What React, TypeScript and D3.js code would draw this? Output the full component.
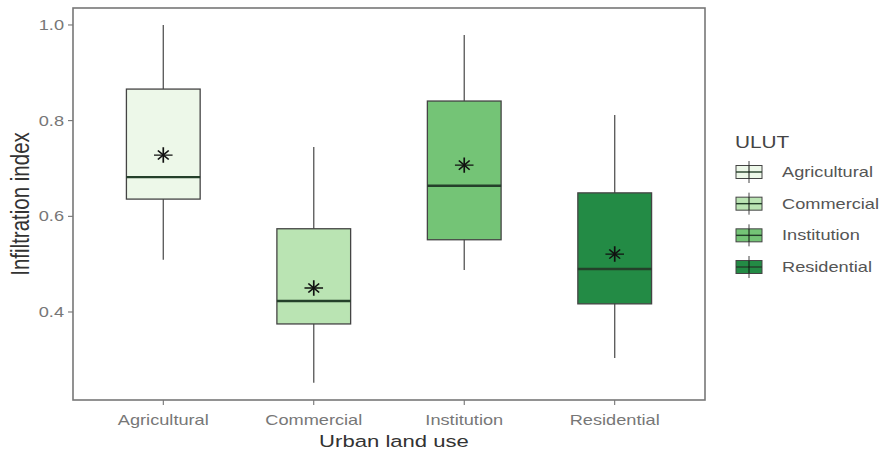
import { useEffect, useRef } from "react";
import * as d3 from "d3";

// Data
const categories = ["Agricultural", "Commercial", "Institution", "Residential"];
const whiskerLow = [0.509, 0.252, 0.488, 0.304];
const q1 = [0.636, 0.375, 0.551, 0.417];
const medians = [0.682, 0.423, 0.664, 0.49];
const q3 = [0.866, 0.574, 0.841, 0.649];
const whiskerHigh = [1.0, 0.745, 0.979, 0.812];
const means = [0.728, 0.45, 0.707, 0.521];
const fills = ["#edf8e9", "#bae4b3", "#74c476", "#238b45"];
const yTicks = [0.4, 0.6, 0.8, 1.0];

export default function App() {
    const svgRef = useRef<SVGSVGElement | null>(null);

    useEffect(() => {
        if (!svgRef.current) return;
        document.body.style.margin = "0";

        const svg = d3.select(svgRef.current);
        svg.selectAll("*").remove();

        const font = "'Liberation Sans', Arial, sans-serif";
        const stretch = 1.3; // the source picture is widened horizontally
        const panel = { left: 73, right: 705, top: 8, bottom: 400 };

        const x = d3
            .scaleBand()
            .domain(categories)
            .range([panel.left, panel.right])
            .paddingInner(0)
            .paddingOuter(0.1);

        const y = d3.scaleLinear().domain([0.216, 1.0355]).range([panel.bottom, panel.top]);

        const boxW = x.step() * 0.49;
        const cx = (c: string) => (x(c) || 0) + x.bandwidth() / 2;

        const label = (
            parent: any,
            tx: number,
            ty: number,
            txt: string,
            size: number,
            fill: string,
            anchor = "start",
            dy = "0"
        ) =>
            parent
                .append("text")
                .attr("transform", `translate(${tx},${ty}) scale(${stretch},1)`)
                .attr("text-anchor", anchor)
                .attr("dy", dy)
                .attr("font-family", font)
                .attr("font-size", `${size}px`)
                .attr("fill", fill)
                .text(txt);

        const data = categories.map((c, i) => ({
            c,
            lo: whiskerLow[i],
            q1: q1[i],
            med: medians[i],
            q3: q3[i],
            hi: whiskerHigh[i],
            mean: means[i],
            fill: fills[i],
        }));

        // Y ticks
        const yAxis = svg.append("g");
        yTicks.forEach((t) => {
            yAxis.append("line")
                .attr("x1", panel.left - 5)
                .attr("x2", panel.left)
                .attr("y1", y(t))
                .attr("y2", y(t))
                .attr("stroke", "#666");
            label(yAxis, panel.left - 9, y(t), d3.format(".1f")(t), 14, "#777", "end", "0.35em");
        });

        // X ticks
        const xAxis = svg.append("g");
        categories.forEach((c) => {
            xAxis.append("line")
                .attr("x1", cx(c))
                .attr("x2", cx(c))
                .attr("y1", panel.bottom)
                .attr("y2", panel.bottom + 5)
                .attr("stroke", "#666");
            label(xAxis, cx(c), 425, c, 14, "#777", "middle");
        });

        // Whiskers
        const g = svg.append("g");
        g.selectAll(".whisker")
            .data(data)
            .enter()
            .append("line")
            .attr("x1", (d) => cx(d.c))
            .attr("x2", (d) => cx(d.c))
            .attr("y1", (d) => y(d.lo))
            .attr("y2", (d) => y(d.hi))
            .attr("stroke", "#555")
            .attr("stroke-width", 1.3);

        // Boxes
        g.selectAll(".box")
            .data(data)
            .enter()
            .append("rect")
            .attr("x", (d) => cx(d.c) - boxW / 2)
            .attr("width", boxW)
            .attr("y", (d) => y(d.q3))
            .attr("height", (d) => y(d.q1) - y(d.q3))
            .attr("fill", (d) => d.fill)
            .attr("stroke", "#444")
            .attr("stroke-width", 1.3);

        // Medians
        g.selectAll(".median")
            .data(data)
            .enter()
            .append("line")
            .attr("x1", (d) => cx(d.c) - boxW / 2)
            .attr("x2", (d) => cx(d.c) + boxW / 2)
            .attr("y1", (d) => y(d.med))
            .attr("y2", (d) => y(d.med))
            .attr("stroke", "#24402a")
            .attr("stroke-width", 2.4);

        // Means as asterisks (plus + times)
        const plus = d3.symbol(d3.symbolPlus, 80)();
        const times = d3.symbol(d3.symbolTimes, 55)();
        data.forEach((d) => {
            const s = g.append("g").attr("transform", `translate(${cx(d.c)},${y(d.mean)}) scale(1.2,1)`);
            [plus, times].forEach((p) =>
                s.append("path").attr("d", p).attr("fill", "none").attr("stroke", "#111").attr("stroke-width", 1.4)
            );
        });

        // Panel border
        svg.append("rect")
            .attr("x", panel.left)
            .attr("y", panel.top)
            .attr("width", panel.right - panel.left)
            .attr("height", panel.bottom - panel.top)
            .attr("fill", "none")
            .attr("stroke", "#777")
            .attr("stroke-width", 1.6);

        // Axis titles
        label(svg, (panel.left + panel.right) / 2 + 5, 447, "Urban land use", 17, "#333", "middle");

        svg.append("text")
            .attr("transform", `translate(29,${(panel.top + panel.bottom) / 2}) scale(1.22,1) rotate(-90)`)
            .attr("text-anchor", "middle")
            .attr("font-family", font)
            .attr("font-size", "20.5px")
            .attr("fill", "#333")
            .text("Infiltration index");

        // Legend
        const legend = svg.append("g").attr("transform", "translate(735,0)");
        label(legend, 0, 148, "ULUT", 16, "#444");

        const keyY = d3.scalePoint().domain(categories).range([172, 267]);
        data.forEach((d) => {
            const ky = keyY(d.c) || 0;
            const k = legend.append("g").attr("transform", `translate(14,${ky})`);
            k.append("line")
                .attr("x1", 0)
                .attr("x2", 0)
                .attr("y1", -11)
                .attr("y2", 11)
                .attr("stroke", "#444")
                .attr("stroke-width", 1);
            k.append("rect")
                .attr("x", -13)
                .attr("y", -6.5)
                .attr("width", 26)
                .attr("height", 13)
                .attr("fill", d.fill)
                .attr("stroke", "#444")
                .attr("stroke-width", 1);
            k.append("line")
                .attr("x1", -13)
                .attr("x2", 13)
                .attr("y1", 0)
                .attr("y2", 0)
                .attr("stroke", "#24402a")
                .attr("stroke-width", 1.4);
            k.append("line")
                .attr("x1", 0)
                .attr("x2", 0)
                .attr("y1", -6.5)
                .attr("y2", 6.5)
                .attr("stroke", "#111")
                .attr("stroke-width", 1);
            label(legend, 47, ky, d.c, 14, "#555", "start", "0.35em");
        });
    }, []);

    return <svg ref={svgRef} width={886} height={453} style={{ display: "block", background: "#fff" }} />;
}
